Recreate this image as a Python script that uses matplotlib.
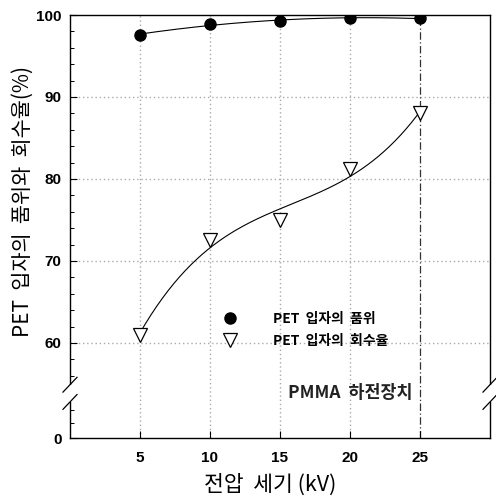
import numpy as np
import matplotlib
matplotlib.use("Agg")
import matplotlib.pyplot as plt

plt.rcParams['font.family'] = ['Noto Sans CJK KR', 'DejaVu Sans']

voltage = [5, 10, 15, 20, 25]
purity = [97.6, 98.9, 99.3, 99.6, 99.6]
recovery = [61.0, 72.5, 75.0, 81.2, 88.0]
ytick_vals = [60, 70, 80, 90, 100]
zero_pos = 48.4  # axis position where the "0" label sits (broken axis)

fig = plt.figure(figsize=(4.96, 5.01), dpi=100)
ax = fig.add_axes([70/496, 1-438/501, 420/496, 423/501])
ax.set_xlim(0, 30)
ax.set_ylim(zero_pos, 100)

# grid
for x in voltage[:-1]:
    ax.axvline(x, color='#aaaaaa', ls=(0, (1, 2)), lw=1.0, zorder=0)
for y in ytick_vals[:-1]:
    ax.axhline(y, color='#aaaaaa', ls=(0, (1, 2)), lw=1.0, zorder=0)
ax.axvline(25, color='#333333', ls=(0, (6, 2, 1, 2)), lw=0.9, zorder=1)

# fitted curves
xs = np.linspace(5, 25, 200)
pr = np.polyfit(voltage, recovery, 3)
pp = np.polyfit(voltage, purity, 2)
ax.plot(xs, np.polyval(pr, xs), color='black', lw=0.8, zorder=2)
ax.plot(xs, np.polyval(pp, xs), color='black', lw=0.8, zorder=2)

ax.plot(voltage, purity, 'o', color='black', ms=8, zorder=3, label='PET  입자의  품위')
ax.plot(voltage, recovery, 'v', mfc='white', mec='black', mew=0.9, ms=9.5, zorder=3,
        label='PET  입자의  회수율')

# ticks
ax.set_xticks(voltage)
ax.set_xticklabels([str(v) for v in voltage], fontfamily='Liberation Sans',
                   fontweight='bold', fontsize=11)
ax.set_yticks(ytick_vals + [zero_pos])
ax.set_yticklabels([str(v) for v in ytick_vals] + ['0'], fontfamily='Liberation Sans',
                   fontweight='bold', fontsize=11)
ax.set_yticks([58, 56, 62, 64, 66, 68, 72, 74, 76, 78, 82, 84, 86, 88, 92, 94, 96, 98,
               50.2, 51.8], minor=True)
ax.tick_params(axis='both', which='major', direction='in', length=5, width=0.8)
ax.tick_params(axis='x', which='major', pad=9)
ax.tick_params(axis='y', which='major', pad=6)
ax.tick_params(axis='y', which='minor', direction='in', length=3, width=0.7)

for s in ax.spines.values():
    s.set_linewidth(1.0)

# axis breaks
b_top, b_bot = 54.9, 52.8
for xpos in (0, 30):
    ax.add_patch(plt.Rectangle((xpos - 0.3, b_bot), 0.6, b_top - b_bot,
                               transform=ax.transData, facecolor='white',
                               edgecolor='none', clip_on=False, zorder=5))
    for yb in (b_top, b_bot):
        ax.plot([xpos - 0.5, xpos + 0.5], [yb - 0.9, yb + 0.9], color='black',
                lw=0.9, clip_on=False, zorder=6)

ax.legend(loc='upper left', bbox_to_anchor=(0.325, 0.322), frameon=False,
          handlelength=2.0, handletextpad=2.1, labelspacing=0.6, borderpad=0.2,
          prop={'family': ['Noto Sans CJK KR'], 'weight': 'bold', 'size': 10})

ax.text(20.0, 53.9, 'PMMA  하전장치', ha='center', va='center', fontsize=12.5,
        fontweight='bold', color='#222222')

ax.set_xlabel('전압  세기 (kV)', fontsize=15.5)
ax.xaxis.set_label_coords(0.476, -0.083)
ax.set_ylabel('PET  입자의  품위와  회수율(%)', fontsize=15)
ax.yaxis.set_label_coords(-0.087, 0.56)

fig.savefig('out.png', dpi=100)
